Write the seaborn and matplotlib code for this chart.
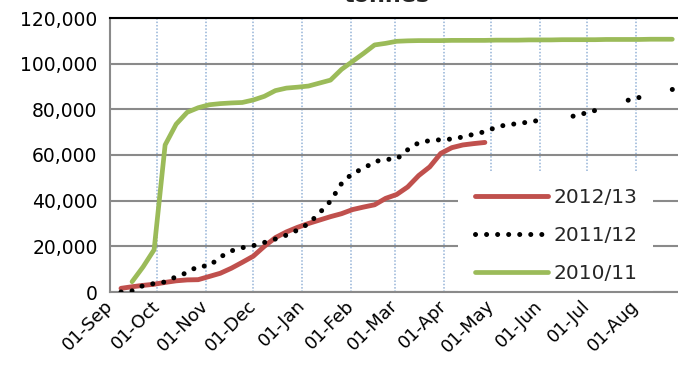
import pandas as pd
import matplotlib
matplotlib.use("Agg")
import matplotlib.pyplot as plt
import matplotlib.dates as mdates
from matplotlib.patches import Rectangle
import seaborn as sns
import numpy as np

nan = np.nan

# weekly dates through the season (Sep -> Aug), all on one dummy season
season_start = pd.Timestamp("2012-09-01")
week_dates = pd.date_range("2012-09-08", "2013-08-31", freq="7D")

# tonnes, cumulative
s2012_13 = [1600, 2300, 2900, 3400, 4200, 4900, 5300, 5400, 6800, 8200,
            10400, 13000, 15700, 20000, 23800, 26300, 28300, 30000, 31500, 33000,
            34300, 36100, 37200, 38200, 41000, 42700, 46000, 51000, 54800, 60700,
            63200, 64400, 65000, 65500] + [nan] * 18

s2011_12 = [0, 500, 2800, 3700, 4400, 6700, 8500, 11300, 11400, 15300,
            18000, 19400, 20300, 21700, 23200, 24900, 27100, 29900, 34600, 39800,
            47500, 52000, 54100, 57100, 58100, 58200, 62300, 65400, 66300, 66700,
            67000, 67900, 69100, 70200, 72100, 73300, 73700, 74500, 75200, nan,
            nan, 77000, 78200, 79500, nan, nan, 84000, 85200, nan, nan,
            88700, 89300]

s2010_11 = [nan, 4500, 11000, 18500, 64400, 73500, 78700, 80700, 82000, 82500,
            82800, 83000, 84100, 85700, 88200, 89300, 89700, 90200, 91500, 92800,
            97500, 101000, 104500, 108200, 108900, 109800, 110000, 110100, 110100, 110100,
            110200, 110200, 110200, 110200, 110300, 110300, 110300, 110400, 110400, 110400,
            110500, 110500, 110500, 110500, 110600, 110600, 110600, 110600, 110700, 110700,
            110700, nan]

df = pd.DataFrame({"date": week_dates, "2012/13": s2012_13,
                   "2011/12": s2011_12, "2010/11": s2010_11})

sns.set_style("white")
plt.rcParams["font.family"] = ["DejaVu Sans"]

fig = plt.figure(figsize=(6.78, 3.65), dpi=100)
ax = fig.add_axes([110 / 678, 73 / 365, 570 / 678, 274 / 365])

green = "#9bbb59"
red = "#c0504d"
dot_style = (0, (0.01, 2.2))

sns.lineplot(data=df.dropna(subset=["2010/11"]), x="date", y="2010/11", ax=ax,
             color=green, lw=3.4, label="2010/11", zorder=3)
sns.lineplot(data=df.dropna(subset=["2012/13"]), x="date", y="2012/13", ax=ax,
             color=red, lw=3.5, label="2012/13", zorder=4)

# 2011/12 has missing weeks -> draw each run separately so gaps stay gaps
ok = df["2011/12"].notna()
grp = df["2011/12"].isna().cumsum()
first = True
for _, seg in df[ok].groupby(grp[ok]):
    sns.lineplot(data=seg, x="date", y="2011/12", ax=ax, color="black", lw=3.6,
                 label="2011/12" if first else None, zorder=5)
    ln = ax.lines[-1]
    ln.set_linestyle(dot_style)
    ln.set_dash_capstyle("round")
    first = False

ax.set_xlim(season_start, season_start + pd.Timedelta(days=361.9))
ax.set_ylim(0, 120000)
ax.set_yticks(range(0, 120001, 20000))
ax.yaxis.set_major_formatter(matplotlib.ticker.FuncFormatter(lambda v, p: f"{v:,.0f}"))
ax.xaxis.set_major_locator(mdates.MonthLocator())
ax.xaxis.set_major_formatter(mdates.DateFormatter("%d-%b"))

ax.yaxis.grid(True, color="#8a8a8a", lw=1.5)
ax.xaxis.grid(True, color="#95b3d7", lw=1.1, linestyle=(0, (1, 1.2)))
ax.set_axisbelow(True)

for side in ["left", "bottom"]:
    ax.spines[side].set_color("#8a8a8a")
    ax.spines[side].set_linewidth(1.5)
ax.spines["top"].set_color("black")
ax.spines["top"].set_linewidth(1.5)
ax.spines["right"].set_visible(False)

ax.tick_params(axis="both", direction="out", length=5, width=1.5, color="#8a8a8a",
               labelcolor="black")
ax.tick_params(axis="y", labelsize=13.5, pad=4)
ax.tick_params(axis="x", labelsize=13, pad=3)
for lab in ax.get_xticklabels():
    lab.set_rotation(45)
    lab.set_ha("right")
    lab.set_va("center")
    lab.set_rotation_mode("anchor")

ax.set_xlabel("")
ax.set_ylabel("")

# white legend area hiding the gridlines
ax.add_patch(Rectangle((0.6105, 0.0), 0.342, 0.438, transform=ax.transAxes,
                       facecolor="white", edgecolor="none", zorder=1.5))

handles, labels = ax.get_legend_handles_labels()
order = [labels.index(k) for k in ["2012/13", "2011/12", "2010/11"]]
leg = ax.legend([handles[i] for i in order], [labels[i] for i in order],
                loc="lower left", bbox_to_anchor=(0.6228, -0.004), borderaxespad=0,
                fontsize=14.5, frameon=False, handlelength=3.6,
                handletextpad=0.3, labelspacing=0.95, borderpad=0.5)
leg.set_zorder(10)
for h in leg.get_lines():
    if h.get_color() == "black":
        h.set_linestyle(dot_style)
        h.set_dash_capstyle("round")

fig.text(0.570, 0.995, "tonnes", ha="center", va="baseline", fontsize=16,
         fontweight="bold")

fig.savefig("out.png", dpi=100)
